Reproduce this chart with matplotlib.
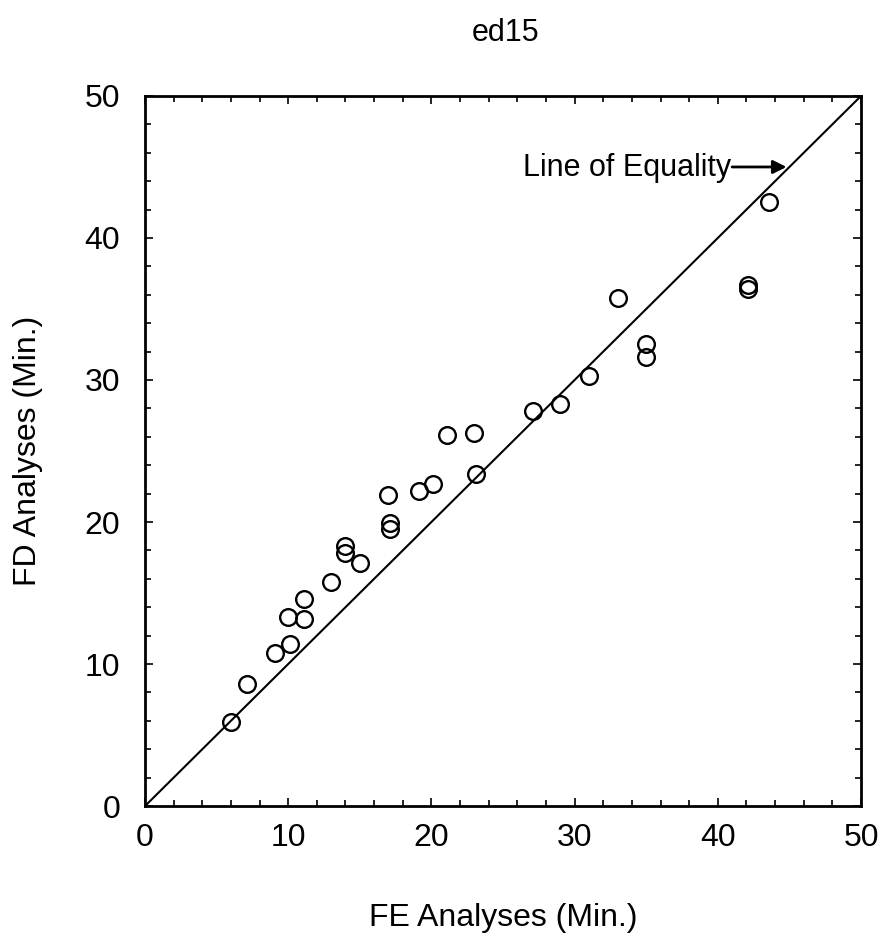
import matplotlib.pyplot as plt
from matplotlib.ticker import MultipleLocator

# FE vs FD analysis times (minutes)
fe_min = [6.0, 7.1, 9.1, 10.1, 10.0, 11.1, 11.1, 13.0, 14.0, 14.0,
          15.0, 17.0, 17.1, 17.1, 19.1, 20.1, 21.1, 23.0, 23.1, 27.1,
          29.0, 31.0, 33.0, 35.0, 35.0, 42.1, 42.1, 43.6]
fd_min = [5.9, 8.6, 10.8, 11.4, 13.3, 13.2, 14.6, 15.8, 18.3, 17.8,
          17.1, 21.9, 19.9, 19.5, 22.2, 22.7, 26.1, 26.3, 23.4, 27.8,
          28.3, 30.3, 35.8, 32.5, 31.6, 36.7, 36.4, 42.5]
equality = [0, 50]
ticks = [0, 10, 20, 30, 40, 50]

plt.rcParams['font.family'] = ['Liberation Sans', 'DejaVu Sans']

fig = plt.figure(figsize=(8.88, 9.39), dpi=100)
ax = fig.add_axes([0.1633, 0.1416, 0.8063, 0.7562])

ax.plot(equality, equality, color='black', lw=1.5)
ax.plot(fe_min, fd_min, 'o', mfc='none', mec='black', ms=12, mew=1.7)

ax.annotate('', xy=(44.8, 45.0), xytext=(41.0, 45.0),
            arrowprops=dict(arrowstyle='-|>', color='black', lw=2,
                            mutation_scale=20, shrinkA=0, shrinkB=0))
ax.text(40.9, 44.9, 'Line of Equality', ha='right', va='center', fontsize=22)

ax.set_xlim(0, 50)
ax.set_ylim(0, 50)
ax.set_xticks(ticks)
ax.set_yticks(ticks)
ax.xaxis.set_minor_locator(MultipleLocator(2))
ax.yaxis.set_minor_locator(MultipleLocator(2))
ax.tick_params(which='both', direction='in', top=True, right=True, width=1.2)
ax.tick_params(which='major', length=6, labelsize=23)
ax.tick_params(axis='x', which='major', pad=12)
ax.tick_params(axis='y', which='major', pad=18)
ax.tick_params(which='minor', length=4)
for s in ax.spines.values():
    s.set_linewidth(2)

ax.set_xlabel('FE Analyses (Min.)', fontsize=23, labelpad=36)
ax.set_ylabel('FD Analyses (Min.)', fontsize=23, labelpad=30)
fig.text(0.569, 0.965, 'ed15', ha='center', va='center', fontsize=22)

fig.savefig('out.png', dpi=100)
